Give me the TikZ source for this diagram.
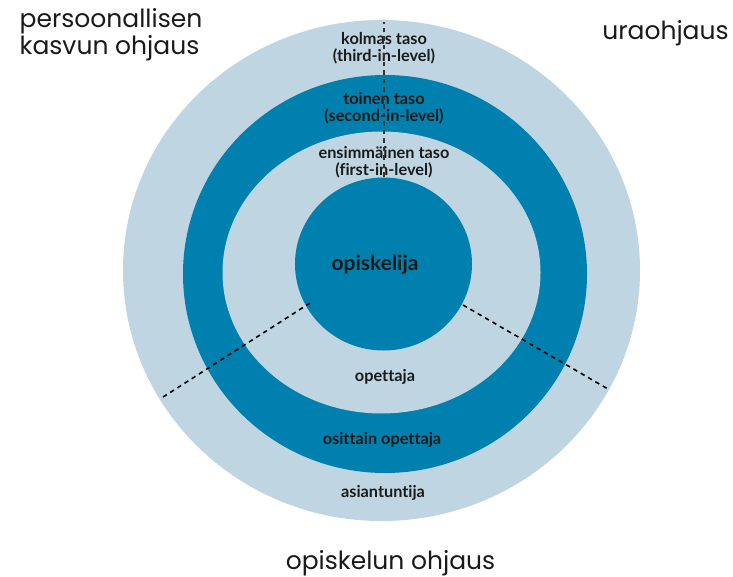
\documentclass[tikz,border=0pt]{standalone}
\usepackage{fontspec}
\setmainfont{Lato}[Ligatures=NoCommon]
\newfontfamily\labfont{Poppins}
\definecolor{lightring}{HTML}{BFD6E2}
\definecolor{darkring}{HTML}{0080AE}
\definecolor{txt}{HTML}{1A1A1A}
\begin{document}
\begin{tikzpicture}[x=1pt,y=-1pt,
  ringtxt/.style={inner sep=0pt,align=center,text=txt,font=\bfseries\fontsize{16.3}{17}\selectfont},
  outertxt/.style={inner sep=0pt,align=left,text=txt,font=\labfont\fontsize{25}{25}\selectfont},
  divider/.style={draw=black,line width=1.6pt,dash pattern=on 4.5pt off 4pt}]
\useasboundingbox (0,0) rectangle (733,577);
% rings
\fill[lightring] (381.5,270.5) ellipse [x radius=258.5, y radius=250.5];
\fill[darkring] (385,274) ellipse [x radius=202, y radius=199];
\fill[lightring] (381.5,272.5) ellipse [x radius=159, y radius=141];
\fill[darkring] (383.5,264) ellipse [x radius=88.5, y radius=86.5];
% ring labels
\node[ringtxt] (third) at (384,48) {kolmas taso\\(third-in-level)};
\node[ringtxt] (second) at (384,108) {toinen taso\\(second-in-level)};
\node[ringtxt] (first) at (384,162) {ensimmäinen taso\\(first-in-level)};
\node[ringtxt,font=\bfseries\fontsize{21}{24}\selectfont] (student) at (375,265) {opiskelija};
\node[ringtxt] (teacher) at (385,377) {opettaja};
\node[ringtxt] (partial) at (382,440) {osittain opettaja};
\node[ringtxt] (expert) at (383,493) {asiantuntija};
% divider end points
\coordinate (vtop) at (384,22);
\coordinate (vbot) at (384,177);
\coordinate (lin) at (310,303);
\coordinate (lout) at (160,399);
\coordinate (rin) at (463,305);
\coordinate (rout) at (608,389);
\draw[divider,line width=1.1pt,draw=black!80] (vbot) -- (vtop);
\draw[divider] (lin) -- (lout);
\draw[divider] (rin) -- (rout);
% outer labels
\node[outertxt] (personal) at (111,34.5) {persoonallisen\\kasvun ohjaus};
\node[outertxt] (career) at (665.5,33) {uraohjaus};
\node[outertxt] (study) at (390.5,563) {opiskelun ohjaus};
\end{tikzpicture}
\end{document}
